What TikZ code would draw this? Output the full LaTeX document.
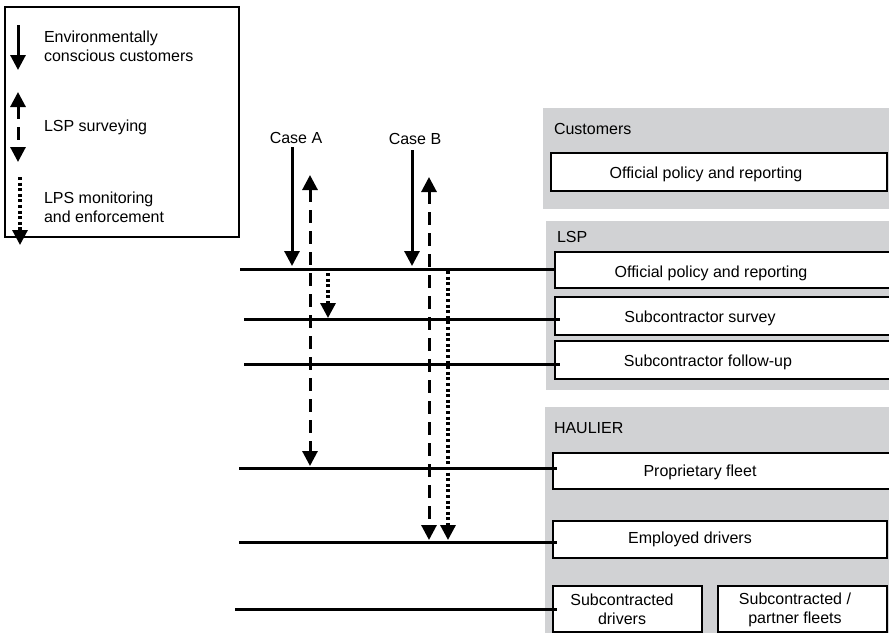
\documentclass[tikz,border=0pt]{standalone}
\usepackage{fontspec}
\setmainfont{Liberation Sans}
\usetikzlibrary{arrows.meta,calc}
\definecolor{panelgray}{RGB}{209,210,212}
\begin{document}
\begin{tikzpicture}[x=1pt,y=-1pt,
  every node/.style={font=\fontsize{16}{19}\selectfont, inner sep=0pt, outer sep=0pt},
  lbl/.style={anchor=base west},
  ctr/.style={anchor=base},
  panel/.style={fill=panelgray, draw=none},
  box/.style={draw, fill=white, line width=1.8pt, anchor=north west},
  level/.style={line width=3pt},
  headtip/.style={-{Triangle[width=15pt,length=15pt]}},
  bothtip/.style={{Triangle[width=15pt,length=15pt]}-{Triangle[width=15pt,length=15pt]}},
  solidarrow/.style={headtip, line width=3pt},
  dasharrow/.style={bothtip, line width=3pt, dash pattern=on 13pt off 8pt},
  dotarrow/.style={headtip, line width=3.2pt, dash pattern=on 3pt off 2.6pt}
]
\useasboundingbox (0,0) rectangle (889,633);

% legend
\draw[line width=1.2pt] (5,7) rectangle (239,237);
\coordinate (ga1) at (18,25); \coordinate (gb1) at (18,70);
\coordinate (ga2) at (18,92); \coordinate (gb2) at (18,162);
\coordinate (ga3) at (20,177); \coordinate (gb3) at (20,245);
\draw[solidarrow] (ga1) -- (gb1);
\draw[dasharrow] (ga2) -- (gb2);
\draw[dotarrow] (ga3) -- (gb3);
\node[lbl] (t1) at (44,42) {Environmentally};
\node[lbl] (t2) at (44,61) {conscious customers};
\node[lbl] (t3) at (44,131) {LSP surveying};
\node[lbl] (t4) at (44,203) {LPS monitoring};
\node[lbl] (t5) at (44,222) {and enforcement};

% panels
\fill[panel] (543,108) rectangle (889,209);
\fill[panel] (546,221) rectangle (889,390);
\fill[panel] (545,407) rectangle (889,633);
\node[lbl] (pc) at (554,134) {Customers};
\node[lbl] (pl) at (557,242) {LSP};
\node[lbl] (ph) at (554,433) {HAULIER};

% boxes
\node[box, minimum width=336pt, minimum height=38pt] (cpol) at (551,153) {};
\node[box, minimum width=340pt, minimum height=36pt] (lpol) at (555,252) {};
\node[box, minimum width=340pt, minimum height=38pt] (surv) at (555,297) {};
\node[box, minimum width=340pt, minimum height=38pt] (foll) at (555,341) {};
\node[box, minimum width=340pt, minimum height=36pt] (prop) at (553,453) {};
\node[box, minimum width=334pt, minimum height=37pt] (empl) at (553,521) {};
\node[box, minimum width=149pt, minimum height=46pt] (sdrv) at (553,586) {};
\node[box, minimum width=169pt, minimum height=46pt] (sflt) at (718,586) {};

\node[ctr] at (706,178) {Official policy and reporting};
\node[ctr] at (711,277) {Official policy and reporting};
\node[ctr] at (700,322) {Subcontractor survey};
\node[ctr] at (708,366) {Subcontractor follow-up};
\node[ctr] at (700,476) {Proprietary fleet};
\node[ctr] at (690,543) {Employed drivers};
\node[ctr] at (622,605) {Subcontracted};
\node[ctr] at (622,624) {drivers};
\node[ctr] at (795,604) {Subcontracted /};
\node[ctr] at (795,623) {partner fleets};

% level lines
\coordinate (l1) at (240,269);
\coordinate (l2) at (244,319);
\coordinate (l3) at (244,364);
\coordinate (l4) at (239,468);
\coordinate (l5) at (239,542);
\coordinate (l6) at (235,609);
\draw[level] (l1) -- (l1 -| lpol.west);
\draw[level] (l2) -- ($(l2 -| surv.west)+(5,0)$);
\draw[level] (l3) -- ($(l3 -| foll.west)+(5,0)$);
\draw[level] (l4) -- ($(l4 -| prop.west)+(4,0)$);
\draw[level] (l5) -- ($(l5 -| empl.west)+(4,0)$);
\draw[level] (l6) -- ($(l6 -| sdrv.west)+(4,0)$);

% cases
\node[ctr] (caseA) at (296,143) {Case A};
\node[ctr] (caseB) at (415,144) {Case B};
\coordinate (a1s) at (292,147); \coordinate (a1e) at (292,266);
\coordinate (a2s) at (310,175); \coordinate (a2e) at (310,466);
\coordinate (a3s) at (328,273); \coordinate (a3e) at (328,318);
\coordinate (b1s) at (412,150); \coordinate (b1e) at (412,266);
\coordinate (b2s) at (429,177); \coordinate (b2e) at (429,540);
\coordinate (b3s) at (448,271); \coordinate (b3e) at (448,540);
\draw[solidarrow] (a1s) -- (a1e);
\draw[dasharrow] (a2s) -- (a2e);
\draw[dotarrow] (a3s) -- (a3e);
\draw[solidarrow] (b1s) -- (b1e);
\draw[dasharrow] (b2s) -- (b2e);
\draw[dotarrow] (b3s) -- (b3e);
\end{tikzpicture}
\end{document}
